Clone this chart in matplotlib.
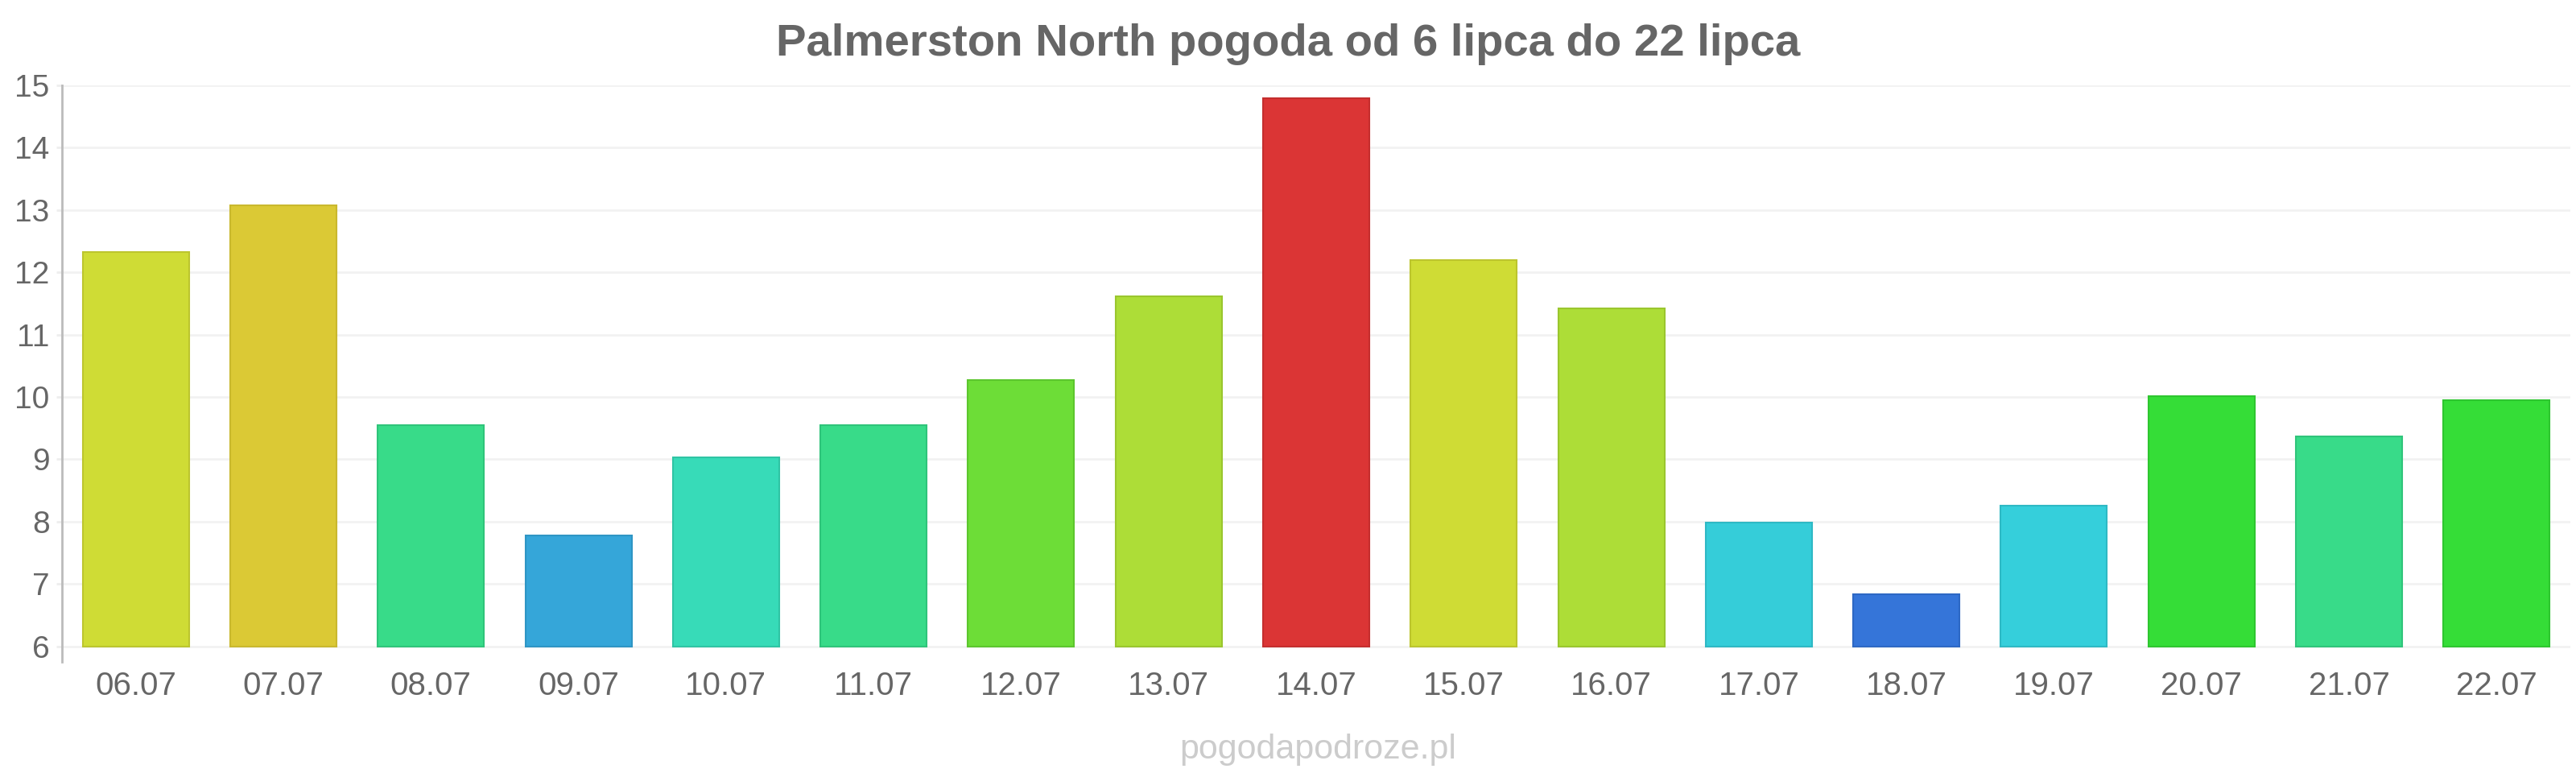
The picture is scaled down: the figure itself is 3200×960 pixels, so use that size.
import matplotlib.pyplot as plt
import numpy as np

days = ['06.07', '07.07', '08.07', '09.07', '10.07', '11.07', '12.07', '13.07', '14.07',
        '15.07', '16.07', '17.07', '18.07', '19.07', '20.07', '21.07', '22.07']
temps = [12.33, 13.08, 9.55, 7.78, 9.03, 9.55, 10.27, 11.62, 14.79,
         12.20, 11.42, 7.98, 6.83, 8.25, 10.01, 9.37, 9.95]
colors = ['#cfdc35', '#dbc935', '#38db89', '#35a6d9', '#37dbb8', '#38db89', '#6ddd37', '#addd37', '#db3535',
          '#cfdc35', '#addd37', '#35cdd9', '#3575d9', '#35cfdb', '#35dd37', '#38db89', '#35dd37']
edges = ['#bcc52e', '#c9b82e', '#2fc47a', '#2e95c4', '#2fc4a4', '#2fc47a', '#5cc62e', '#9ac62e', '#c42e2e',
         '#bcc52e', '#9ac62e', '#2eb8c4', '#2e68c4', '#2eb9c4', '#2ec62f', '#2fc47a', '#2ec62f']
yticks = [6, 7, 8, 9, 10, 11, 12, 13, 14, 15]

plt.rcParams['font.family'] = ['Liberation Sans', 'DejaVu Sans']

fig = plt.figure(figsize=(32, 9.6), dpi=100)
ax = fig.add_axes([77 / 3200, 1 - 822 / 960, (3193 - 77) / 3200, (822 - 106) / 960])

x = np.arange(len(days))
ax.bar(x, [t - 6 for t in temps], bottom=6, width=0.72, color=colors,
       edgecolor=edges, linewidth=1.5, zorder=3)

ax.set_xlim(-0.5, len(days) - 0.5)
ax.set_ylim(5.75, 15)
ax.set_yticks(yticks)
ax.set_yticklabels([str(v) for v in yticks])
ax.set_xticks(x)
ax.set_xticklabels(days)
ax.grid(axis='y', color='#f2f2f2', linewidth=2, zorder=0)
ax.tick_params(axis='y', length=5, width=2, color='#eeeeee', labelsize=28, labelcolor='#666666', pad=6)
ax.tick_params(axis='x', length=0, labelsize=29, labelcolor='#666666', pad=8)

for s in ['top', 'right', 'bottom']:
    ax.spines[s].set_visible(False)
ax.spines['left'].set_color('#bbbbbb')
ax.spines['left'].set_linewidth(2)

fig.text(0.5, 1 - 55 / 960, 'Palmerston North pogoda od 6 lipca do 22 lipca',
         ha='center', va='center', fontsize=40.5, fontweight='bold', color='#666666')
fig.text(1637 / 3200, 1 - 931 / 960, 'pogodapodroze.pl', ha='center', va='center',
         fontsize=31, color='#cccccc')

fig.savefig('out.png', dpi=100, facecolor='white')
